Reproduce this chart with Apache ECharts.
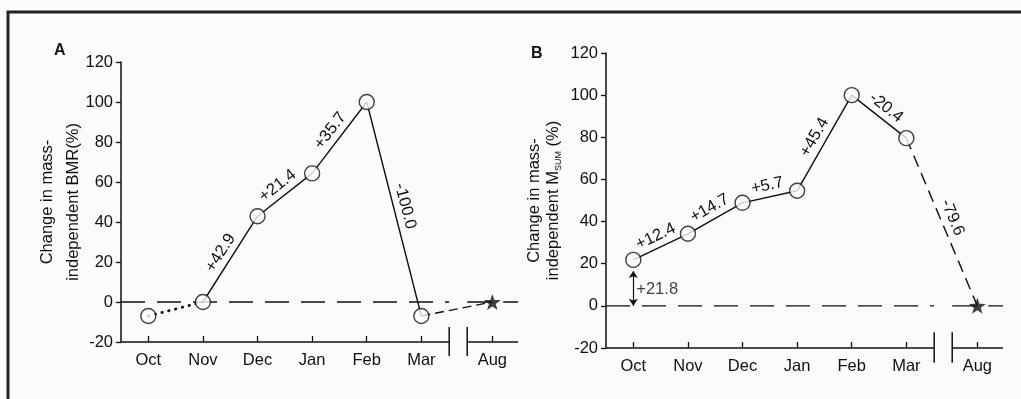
<!DOCTYPE html>
<html>
<head>
<meta charset="utf-8">
<script src="https://cdn.jsdelivr.net/npm/echarts@6/dist/echarts.min.js"></script>
<style>
html,body{margin:0;padding:0;background:#fbfbfb;}
#chart{width:1021px;height:399px;}
</style>
</head>
<body>
<div id="chart"></div>
<script>
// ---- data ----
const months = ['Oct', 'Nov', 'Dec', 'Jan', 'Feb', 'Mar', 'Aug'];
const monthPos = [0, 1, 2, 3, 4, 5, 6.3];          // Aug sits after the axis break
const bmrValues = [-7, 0, 42.9, 64.3, 100, -7, 0];   // panel A
const bmrChanges = ['+42.9', '+21.4', '+35.7', '-100.0']; // Nov->Dec ... Feb->Mar
const msumValues = [21.8, 34.2, 48.9, 54.6, 100, 79.6, 0]; // panel B
const msumChanges = ['+12.4', '+14.7', '+5.7', '+45.4', '-20.4', '-79.6']; // Oct->Nov ... Mar->Aug
const msumBaseline = '+21.8';
const yMin = -20, yMax = 120, yStep = 20;

// ---- layout constants ----
const X_MIN = -0.5, X_MAX = 6.77, BREAK_A = 5.51, BREAK_B = 5.84;
const INK = '#111111';
const FONT = "'Liberation Sans', Arial, sans-serif";
const FS = 16.5;
const STAR = 'path://M0,-10L2.35,-3.24L9.51,-3.09L3.8,1.24L5.88,8.09L0,4L-5.88,8.09L-3.8,1.24L-9.51,-3.09L-2.35,-3.24Z';

function pts(vals, i0, i1) {
  const out = [];
  for (let i = i0; i <= i1; i++) out.push([monthPos[i], vals[i]]);
  return out;
}
function seg(gi, data, style, extra) {
  return Object.assign({
    type: 'line', xAxisIndex: gi, yAxisIndex: gi, data: data, symbol: 'none',
    silent: true, clip: false, animation: false, z: 2,
    lineStyle: Object.assign({ color: INK, width: 1.4, type: 'solid' }, style || {})
  }, extra || {});
}
function labelLines(vals, changes, startIdx) {
  return {
    silent: true, animation: false, symbol: ['none', 'none'],
    lineStyle: { color: 'rgba(0,0,0,0)', width: 1, type: 'solid' },
    label: { show: true, position: 'insideMiddleTop', distance: 3, formatter: '{b}',
             color: INK, fontSize: FS, fontFamily: FONT },
    data: changes.map((t, k) => {
      const i = startIdx + k;
      return [{ name: t, coord: [monthPos[i], vals[i]] }, { coord: [monthPos[i + 1], vals[i + 1]] }];
    })
  };
}
function frameSeries(gi) {
  return [
    seg(gi, [[X_MIN, 0], [BREAK_A, 0]], { type: [24, 12], width: 1.4 }, { z: 1 }),
    seg(gi, [[BREAK_B, 0], [X_MAX, 0]], { type: [24, 12], width: 1.4 }, { z: 1 }),
    seg(gi, [[X_MIN, yMin], [BREAK_A, yMin]], { width: 1.5 }),
    seg(gi, [[BREAK_B, yMin], [X_MAX, yMin]], { width: 1.5 }),
    seg(gi, [[BREAK_A, -12.5], [BREAK_A, -27]], { width: 1.5 }),
    seg(gi, [[BREAK_B, -12.5], [BREAK_B, -27]], { width: 1.5 })
  ];
}
function markers(gi, vals) {
  return [
    { type: 'scatter', xAxisIndex: gi, yAxisIndex: gi, silent: true, animation: false, z: 5,
      data: pts(vals, 0, 5), symbol: 'circle', symbolSize: 15,
      itemStyle: { color: '#fdfdfd', borderColor: INK, borderWidth: 1.4 } },
    { type: 'scatter', xAxisIndex: gi, yAxisIndex: gi, silent: true, animation: false, z: 5,
      data: pts(vals, 6, 6), symbol: STAR, symbolSize: [17, 16],
      itemStyle: { color: INK } }
  ];
}
function xAxis(gi) {
  return {
    gridIndex: gi, type: 'value', min: X_MIN, max: X_MAX, position: 'bottom',
    axisLine: { show: false, onZero: false },
    splitLine: { show: false },
    axisTick: { show: true, inside: true, length: 6, customValues: monthPos,
                lineStyle: { color: INK, width: 1.3 } },
    axisLabel: { customValues: monthPos, margin: 10, color: INK, fontSize: FS, fontFamily: FONT,
                 formatter: v => months[monthPos.indexOf(v)] || '' }
  };
}
function yAxis(gi, name, gap, lh, rich) {
  return {
    gridIndex: gi, type: 'value', min: yMin, max: yMax, interval: yStep,
    axisLine: { show: true, onZero: false, lineStyle: { color: INK, width: 1.5 } },
    axisTick: { show: true, length: 5, lineStyle: { color: INK, width: 1.3 } },
    axisLabel: { margin: 8, color: INK, fontSize: FS, fontFamily: FONT },
    splitLine: { show: false },
    name: name, nameLocation: 'middle', nameRotate: 90, nameGap: gap, nameMoveOverlap: false,
    nameTextStyle: Object.assign({ color: INK, fontSize: FS, fontFamily: FONT, lineHeight: lh },
                                 rich ? { rich: rich } : {})
  };
}

const series = [];
// Panel A
series.push(...frameSeries(0));
series.push(seg(0, pts(bmrValues, 0, 1), { type: [0.5, 6.5], width: 2.8, cap: 'round' }));
series.push(seg(0, pts(bmrValues, 1, 5), {}, { markLine: labelLines(bmrValues, bmrChanges, 1) }));
series.push(seg(0, pts(bmrValues, 5, 6), { type: [9, 5] }));
series.push(...markers(0, bmrValues));
// Panel B
series.push(...frameSeries(1));
series.push(seg(1, pts(msumValues, 0, 5), {}, { markLine: labelLines(msumValues, msumChanges, 0) }));
series.push(seg(1, pts(msumValues, 5, 6), { type: [12, 7] }));
series.push(...markers(1, msumValues));
series.push({
  type: 'scatter', xAxisIndex: 1, yAxisIndex: 1, silent: true, animation: false, z: 4,
  data: [[monthPos[0], 8]], symbolSize: 0,
  label: { show: true, position: 'right', distance: 3, formatter: msumBaseline,
           color: INK, fontSize: FS, fontFamily: FONT },
  markLine: {
    silent: true, animation: false, symbol: ['arrow', 'arrow'], symbolSize: 7,
    lineStyle: { color: INK, width: 1.2, type: 'solid' }, label: { show: false },
    data: [[{ coord: [monthPos[0], 0] }, { coord: [monthPos[0], msumValues[0] - 5.3] }]]
  }
});

const option = {
  animation: false,
  backgroundColor: '#fbfbfb',
  textStyle: { fontFamily: FONT },
  title: [
    { text: 'A', left: 49, top: 38, textStyle: { fontSize: 16, fontWeight: 'bold', color: INK, fontFamily: FONT } },
    { text: 'B', left: 526, top: 41, textStyle: { fontSize: 16, fontWeight: 'bold', color: INK, fontFamily: FONT } }
  ],
  grid: [
    { left: 121, top: 62, width: 397, height: 280 },
    { left: 606, top: 53, width: 397, height: 295 }
  ],
  xAxis: [xAxis(0), xAxis(1)],
  yAxis: [
    yAxis(0, 'Change in mass-\nindependent BMR(%)', 35, 26),
    yAxis(1, 'Change in mass-\nindependent M{sub|SUM} (%)', 43, 19,
          { sub: { fontSize: 9, lineHeight: 12, verticalAlign: 'bottom', color: INK, fontFamily: FONT } })
  ],
  graphic: [{
    type: 'polyline', silent: true, z: 100,
    shape: { points: [[8, 399], [8, 12], [1021, 12]] },
    style: { stroke: '#222', lineWidth: 3, fill: null }
  }],
  series: series
};
echarts.init(document.getElementById('chart')).setOption(option);
</script>
</body>
</html>
